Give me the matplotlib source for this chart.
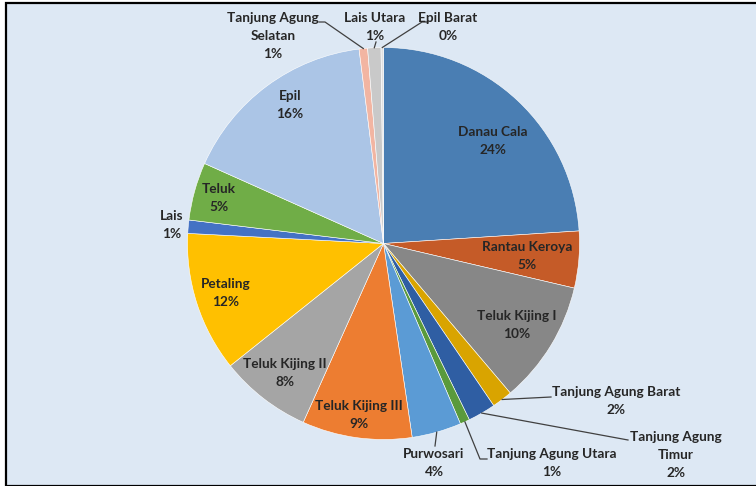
import numpy as np
import matplotlib.pyplot as plt
from matplotlib.patches import Rectangle

# ---- data (share of total) ----
names = ['Danau Cala', 'Rantau Keroya', 'Teluk Kijing I', 'Tanjung Agung Barat',
         'Tanjung Agung Timur', 'Tanjung Agung Utara', 'Purwosari', 'Teluk Kijing III',
         'Teluk Kijing II', 'Petaling', 'Lais', 'Teluk', 'Epil',
         'Tanjung Agung Selatan', 'Lais Utara', 'Epil Barat']
shares = [24.1, 4.7, 10.2, 1.7, 2.3, 0.8, 4.1, 9.1, 7.6, 11.6, 1.1, 4.8, 16.4, 0.7, 1.1, 0.2]
label_text = ['Danau Cala', 'Rantau Keroya', 'Teluk Kijing I', 'Tanjung Agung Barat',
              'Tanjung Agung\nTimur', 'Tanjung Agung Utara', 'Purwosari', 'Teluk Kijing III',
              'Teluk Kijing II', 'Petaling', 'Lais', 'Teluk', 'Epil',
              'Tanjung Agung\nSelatan', 'Lais Utara', 'Epil Barat']

colors = ['#4a7eb3', '#c55b28', '#878787', '#d9a400', '#2f5ea3', '#5a9a3c', '#5b9bd5',
          '#ed7d31', '#a5a5a5', '#ffc000', '#4472c4', '#70ad47', '#abc5e6', '#f2b5a2',
          '#c9c9c9', '#e0e0e0']

# ---- layout (pixel coordinates, y measured from top) ----
W, H = 756, 486
CX, CY, R = 383.5, 243.5, 196
# centre of each label block
label_pos = [(493, 141), (527, 256), (517, 325), (616, 401), (676, 455), (552, 463),
             (434, 463), (359, 415), (285, 373), (226, 293), (172, 225), (219, 198),
             (290, 105), (273, 36), (375, 27), (448, 27)]
leader_end = {3: (551, 397), 4: (628, 440), 5: (480, 459), 6: (435, 446),
              13: (325, 22), 14: (376, 42), 15: (422, 22)}
leader_tail = {5: (487, 459), 13: (319, 22), 15: (428, 22)}

fig = plt.figure(figsize=(W / 100, H / 100), dpi=100)
fig.patch.set_facecolor('white')
fig.patches.append(Rectangle((6 / W, 0), 1, 1 - 3 / H, transform=fig.transFigure,
                             facecolor='#dde8f4', edgecolor='black', linewidth=1.6,
                             zorder=-1))

ax = fig.add_axes([0, 0, 1, 1])
ax.patch.set_visible(False)

wedges, _ = ax.pie(shares, colors=colors, startangle=90, counterclock=False,
                   center=(CX, H - CY), radius=R, normalize=True,
                   wedgeprops=dict(edgecolor='white', linewidth=0.4))
ax.set_xlim(0, W)
ax.set_ylim(0, H)
ax.set_aspect('equal')
ax.axis('off')

font = dict(family=['Lato', 'DejaVu Sans'], fontsize=9.8, fontweight='bold',
            color='#262626')
for i, w in enumerate(wedges):
    pct = f'{shares[i]:.0f}%'
    x, y = label_pos[i]
    ax.text(x, H - y, label_text[i] + '\n' + pct, ha='center', va='center',
            multialignment='center', linespacing=1.6, **font)
    if i in leader_end:
        mid = np.deg2rad((w.theta1 + w.theta2) / 2)
        sx = CX + R * np.cos(mid)
        sy = CY - R * np.sin(mid)
        ex, ey = leader_end[i]
        xs, ys = [sx, ex], [sy, ey]
        if i in leader_tail:
            tx, ty = leader_tail[i]
            xs.append(tx)
            ys.append(ty)
        ax.plot(xs, [H - v for v in ys], color='#404040', linewidth=0.9)

fig.savefig('out.png', dpi=100)
